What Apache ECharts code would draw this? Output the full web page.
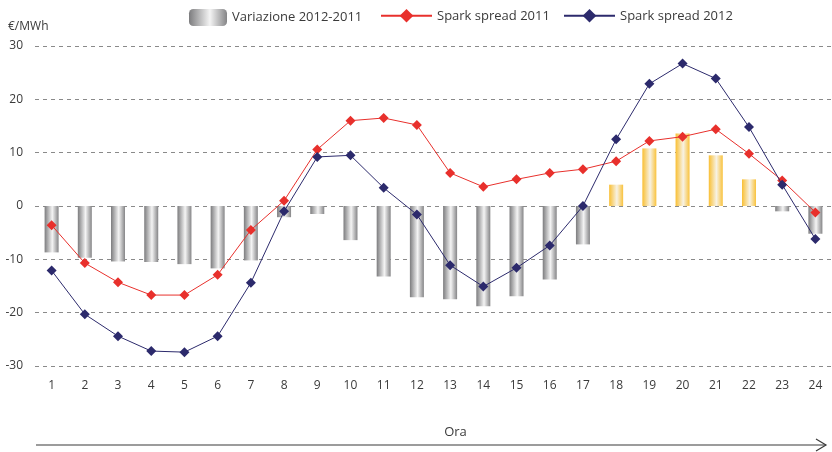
<!DOCTYPE html>
<html>
<head>
<meta charset="utf-8">
<script src="https://cdn.jsdelivr.net/npm/echarts@6/dist/echarts.min.js"></script>
<style>
html,body{margin:0;padding:0;background:#fff;}
#chart{width:832px;height:452px;}
</style>
</head>
<body>
<div id="chart"></div>
<script>
const categories = ['1','2','3','4','5','6','7','8','9','10','11','12','13','14','15','16','17','18','19','20','21','22','23','24'];
const variazione = [-8.7,-9.7,-10.4,-10.5,-10.9,-11.7,-10.2,-2.1,-1.5,-6.4,-13.2,-17.1,-17.5,-18.8,-16.9,-13.8,-7.2,4.0,10.8,13.6,9.5,5.0,-1.0,-5.2];
const spread2011 = [-3.6,-10.7,-14.3,-16.7,-16.7,-12.9,-4.5,1.0,10.6,16.0,16.5,15.2,6.2,3.6,5.0,6.2,6.9,8.4,12.2,13.0,14.4,9.8,4.8,-1.2];
const spread2012 = [-12.1,-20.3,-24.4,-27.2,-27.4,-24.4,-14.4,-1.0,9.2,9.5,3.4,-1.6,-11.1,-15.1,-11.6,-7.4,0.0,12.5,22.9,26.7,23.9,14.8,4.0,-6.2];
const yTicks = [-30,-20,-10,0,10,20,30];

const FONT = 'Open Sans';
const TXT = '#3a3a3a';
const grayGrad = new echarts.graphic.LinearGradient(0,0,1,0,[
  {offset:0,color:'#7c7c7e'},{offset:0.55,color:'#f4f4f4'},{offset:1,color:'#858587'}]);
const yellowGrad = new echarts.graphic.LinearGradient(0,0,1,0,[
  {offset:0,color:'#f9bf33'},{offset:0.55,color:'#f7f2e4'},{offset:1,color:'#f9c23c'}]);

const chart = echarts.init(document.getElementById('chart'), null, {renderer:'canvas'});
chart.setOption({
  animation:false,
  textStyle:{fontFamily:FONT,color:TXT},
  legend:[
    {data:['Variazione 2012-2011'],left:189,top:9,itemWidth:38,itemHeight:17,itemGap:0,
     textStyle:{fontFamily:FONT,fontSize:13,color:TXT},padding:0},
    {data:['Spark spread 2011'],left:380,top:9,itemWidth:51,itemHeight:17,
     textStyle:{fontFamily:FONT,fontSize:13,color:TXT},padding:0},
    {data:['Spark spread 2012'],left:563,top:9,itemWidth:51,itemHeight:17,
     textStyle:{fontFamily:FONT,fontSize:13,color:TXT},padding:0}
  ],
  grid:{left:35,right:-3,top:46,bottom:86,containLabel:false},
  xAxis:{
    type:'category',data:categories,
    axisLine:{show:false,onZero:false},axisTick:{show:false},
    axisLabel:{fontFamily:FONT,fontSize:12,color:TXT,margin:14},
    name:'Ora',nameLocation:'middle',nameGap:60,
    nameTextStyle:{fontFamily:FONT,fontSize:13,color:TXT,padding:[0,0,0,44]}
  },
  yAxis:{
    type:'value',min:-30,max:30,interval:10,
    name:'€/MWh',nameLocation:'end',nameGap:13,
    nameTextStyle:{fontFamily:FONT,fontSize:12,color:TXT,align:'left',padding:[0,0,0,-27]},
    axisLine:{show:false},axisTick:{show:false},
    axisLabel:{fontFamily:FONT,fontSize:12,color:TXT,margin:12},
    splitLine:{lineStyle:{color:'#8a8a8a',type:[4,4],width:1}}
  },
  series:[
    {name:'Variazione 2012-2011',type:'bar',barWidth:14,
     itemStyle:{color:grayGrad},
     data:variazione.map(v=>({value:v,itemStyle:{color:v>=0?yellowGrad:grayGrad}})),
     z:1},
    {name:'Spark spread 2011',type:'line',data:spread2011,
     symbol:'diamond',symbolSize:10,
     lineStyle:{color:'#e8302c',width:1},itemStyle:{color:'#e8302c'},z:3},
    {name:'Spark spread 2012',type:'line',data:spread2012,
     symbol:'diamond',symbolSize:10,
     lineStyle:{color:'#2c2a6c',width:1},itemStyle:{color:'#2c2a6c'},z:4}
  ],
  graphic:[
    {type:'line',shape:{x1:36,y1:445,x2:826,y2:445},style:{stroke:'#3a3a3a',lineWidth:1.2}},
    {type:'polyline',shape:{points:[[816,439],[826,445],[816,451]]},style:{stroke:'#3a3a3a',lineWidth:1.2,fill:null}}
  ]
});
</script>
</body>
</html>
